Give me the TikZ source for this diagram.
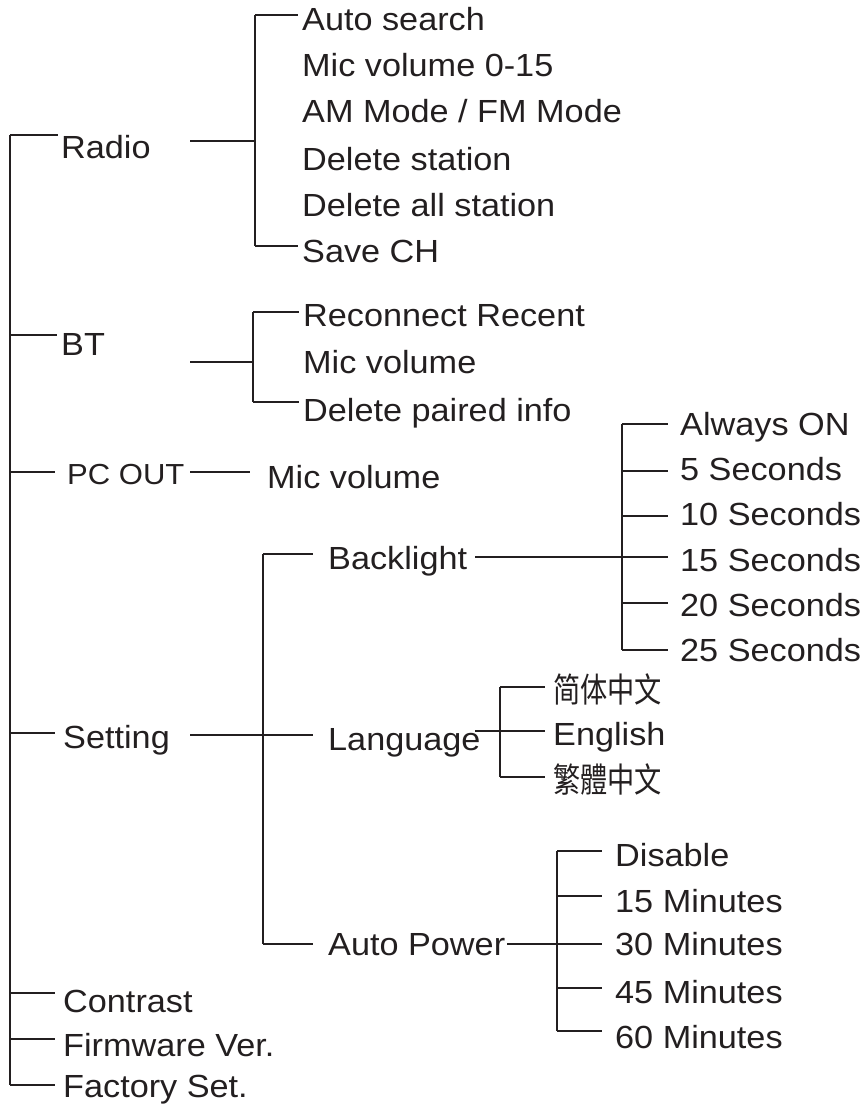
\documentclass[tikz,border=0pt]{standalone}
\usepackage{fontspec}
\newfontfamily\lbfamily[FakeStretch=1.07]{Liberation Sans}
\newfontfamily\cjksc[FakeStretch=0.8]{Noto Sans CJK SC}
\newfontfamily\cjktc[FakeStretch=0.8]{Noto Sans CJK TC}
\definecolor{ink}{HTML}{231F20}
\begin{document}
\begin{tikzpicture}[x=1pt,y=-1pt,
  lbl/.style={anchor=base west, inner xsep=3pt, inner ysep=0pt, text=ink, yshift=-3pt,
    font=\lbfamily\fontsize{32}{38}\selectfont},
  small/.style={lbl, font=\lbfamily\fontsize{29}{34}\selectfont},
  cjk/.style={lbl, font=\fontsize{34}{40}\selectfont},
  ln/.style={draw=ink, line width=1.6pt}]
\useasboundingbox (0,0) rectangle (866,1105);

% ---------- root ----------
\coordinate (rootT) at (10,135);
\coordinate (rootB) at (10,1085);
\draw[ln] (rootT) -- (rootB);

% ---------- Radio ----------
\node[lbl] (radio) at (58,155) {Radio};
\draw[ln] (rootT) -- (radio.west |- rootT);
\coordinate (radioO) at (190,141);
\coordinate (radioJ) at (255,141);
\draw[ln] (radioO) -- (radioJ);
\coordinate (radioT) at (255,15);
\coordinate (radioB) at (255,246);
\draw[ln] (radioT) -- (radioB);
\node[lbl] (r1) at (299,28) {Auto search};
\node[lbl] (r2) at (299,74) {Mic volume 0-15};
\node[lbl] (r3) at (299,120) {AM Mode / FM Mode};
\node[lbl] (r4) at (299,167) {Delete station};
\node[lbl] (r5) at (299,213) {Delete all station};
\node[lbl] (r6) at (299,259) {Save CH};
\draw[ln] (radioT) -- (298,15);
\draw[ln] (radioB) -- (298,246);

% ---------- BT ----------
\coordinate (btS) at (10,335);
\node[lbl] (bt) at (58,352) {BT};
\draw[ln] (btS) -- (57,335);
\coordinate (btO) at (190,362);
\coordinate (btJ) at (253,362);
\draw[ln] (btO) -- (btJ);
\coordinate (btT) at (253,312);
\coordinate (btB) at (253,402);
\draw[ln] (btT) -- (btB);
\node[lbl] (b1) at (300,323) {Reconnect Recent};
\node[lbl] (b2) at (300,370) {Mic volume};
\node[lbl] (b3) at (300,418) {Delete paired info};
\draw[ln] (btT) -- (299,312);
\draw[ln] (btB) -- (299,402);

% ---------- PC OUT ----------
\coordinate (pcS) at (10,472);
\node[small] (pc) at (64,481) {PC OUT};
\draw[ln] (pcS) -- (55,472);
\node[lbl] (pcm) at (264,485) {Mic volume};
\coordinate (pcO) at (190,472);
\draw[ln] (pcO) -- (250,472);

% ---------- Setting ----------
\coordinate (setS) at (10,733);
\node[lbl] (set) at (60,745) {Setting};
\draw[ln] (setS) -- (55,733);
\coordinate (setO) at (190,735);
\coordinate (setT) at (263,554);
\coordinate (setB) at (263,944);
\draw[ln] (setT) -- (setB);
\node[lbl] (bl) at (325,566) {Backlight};
\node[lbl] (lang) at (325,747) {Language};
\node[lbl] (ap) at (325,952) {Auto Power};
\draw[ln] (setO) -- (313,735);
\draw[ln] (setT) -- (313,554);
\draw[ln] (setB) -- (313,944);

% Backlight options
\coordinate (blO) at (475,557);
\coordinate (blT) at (622,424);
\coordinate (blB) at (622,650);
\draw[ln] (blO) -- (622,557);
\draw[ln] (blT) -- (blB);
\node[lbl] (s0) at (677,432) {Always ON};
\node[lbl] (s1) at (677,477) {5 Seconds};
\node[lbl] (s2) at (677,522) {10 Seconds};
\node[lbl] (s3) at (677,568) {15 Seconds};
\node[lbl] (s4) at (677,613) {20 Seconds};
\node[lbl] (s5) at (677,658) {25 Seconds};
\draw[ln] (blT) -- (668,424);
\draw[ln] (622,471) -- (668,471);
\draw[ln] (622,516) -- (668,516);
\draw[ln] (622,557) -- (668,557);
\draw[ln] (622,603) -- (668,603);
\draw[ln] (blB) -- (668,650);

% Language options
\coordinate (lgO) at (475,731);
\coordinate (lgT) at (500,687);
\coordinate (lgB) at (500,777);
\draw[ln] (lgO) -- (545,731);
\draw[ln] (lgT) -- (lgB);
\node[cjk] (l1) at (550,699) {\cjksc 简体中文};
\node[lbl] (l2) at (550,742) {English};
\node[cjk] (l3) at (550,789) {\cjktc 繁體中文};
\draw[ln] (lgT) -- (545,687);
\draw[ln] (lgB) -- (545,777);

% Auto Power options
\coordinate (apO) at (507,944);
\coordinate (apT) at (557,851);
\coordinate (apB) at (557,1031);
\draw[ln] (apO) -- (557,944);
\draw[ln] (apT) -- (apB);
\node[lbl] (m0) at (612,863) {Disable};
\node[lbl] (m1) at (612,909) {15 Minutes};
\node[lbl] (m2) at (612,952) {30 Minutes};
\node[lbl] (m3) at (612,1000) {45 Minutes};
\node[lbl] (m4) at (612,1045) {60 Minutes};
\draw[ln] (apT) -- (602,851);
\draw[ln] (557,896) -- (602,896);
\draw[ln] (557,944) -- (602,944);
\draw[ln] (557,988) -- (602,988);
\draw[ln] (apB) -- (602,1031);

% ---------- bottom items ----------
\node[lbl] (con) at (60,1009) {Contrast};
\node[lbl] (fw) at (60,1053) {Firmware Ver.};
\node[lbl, yshift=3pt] (fs) at (60,1097) {Factory Set.};
\draw[ln] (10,993) -- (55,993);
\draw[ln] (10,1039) -- (55,1039);
\draw[ln] (rootB) -- (55,1085);
\end{tikzpicture}
\end{document}
